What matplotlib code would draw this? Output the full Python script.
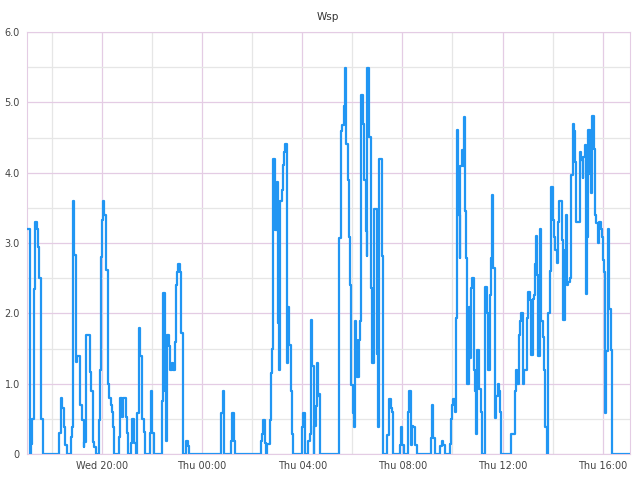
import pandas as pd
import matplotlib.pyplot as plt
import matplotlib.dates as mdates
from matplotlib.ticker import MultipleLocator, FuncFormatter

start = pd.Timestamp("2024-01-03 17:00")

# minutes after start where the reading changes, and the new reading
minutes = [
    0, 8, 9, 12, 17, 19, 24, 27, 30, 33, 35, 38,
    76, 78, 81, 85, 89, 91, 95,
    105, 108, 111, 114, 117, 120, 128, 132, 136, 138, 142, 151, 154, 158, 161, 166,
    172, 175, 178, 180, 183, 186, 190, 194, 197, 201, 204, 207, 210,
    220, 223, 227, 231, 238, 240, 242,
    250, 253, 257, 261, 264, 268, 272, 275, 277, 280, 284, 295, 297, 301, 304,
    324, 327, 330, 333, 336, 340, 343, 347, 351, 355, 358, 361, 363, 367, 370, 373,
    381, 386, 389, 465, 469, 473, 489, 492, 497, 500,
    561, 564, 567, 570, 574, 576, 582, 585, 587, 591, 594, 595, 599, 602, 604,
    607, 611, 614, 616, 619, 623, 626, 629, 632, 636, 639,
    660, 662, 666, 674, 678, 681, 684, 687, 689, 692, 695, 698, 700, 703,
    749, 753, 756, 759, 762, 765, 769, 772, 775, 778, 781, 784, 786, 789, 792,
    796, 799, 802, 805, 808, 812, 815, 816, 819, 821, 825, 828, 831, 839, 842,
    845, 850, 853, 864, 867, 872, 875, 878, 894, 897, 900, 903,
    914, 917, 920, 923, 926, 930, 934,
    968, 971, 974, 978, 990, 994, 997, 1001,
    1013, 1016, 1019, 1022, 1025, 1029, 1031, 1034, 1037, 1039, 1042, 1045, 1048,
    1050, 1053, 1056, 1059, 1061, 1064, 1068, 1071, 1074, 1077, 1080, 1083, 1088, 1091,
    1099, 1102, 1105, 1109, 1112, 1115, 1118, 1121, 1124, 1128, 1131, 1134, 1137,
    1161, 1169, 1172, 1175, 1179, 1182, 1185, 1188, 1191, 1198, 1202,
    1206, 1209, 1212, 1215, 1219, 1221, 1223, 1226, 1230, 1233, 1236, 1239, 1242, 1246,
    1250, 1253, 1257, 1260, 1263, 1266, 1270, 1273, 1276, 1282, 1285, 1289, 1292, 1295,
    1298, 1301, 1305, 1308, 1311, 1314, 1317, 1325, 1329, 1332, 1334, 1337, 1341, 1343,
    1346, 1349, 1352, 1355, 1359, 1362, 1365, 1368, 1371, 1375, 1378, 1381, 1384, 1386,
    1389, 1392, 1395, 1399, 1402, 1442,
]
wsp = [
    3.2, 0, 0.15, 0.5, 2.35, 3.3, 3.2, 2.95, 2.5, 1.15, 0.5, 0,
    0.17, 0.3, 0.8, 0.65, 0.38, 0.13, 0,
    0.25, 0.38, 3.6, 2.83, 1.31, 1.4, 0.7, 0.48, 0.1, 0.17, 1.7, 1.17, 0.9, 0.17, 0.1, 0,
    0.48, 1.2, 2.8, 3.33, 3.6, 3.4, 2.62, 1.0, 0.8, 0.7, 0.6, 0.38, 0,
    0.25, 0.8, 0.53, 0.8, 0.53, 0.3, 0,
    0.16, 0.5, 0.16, 0, 0.59, 1.8, 1.39, 1.19, 0.5, 0.32, 0, 0.3, 0.9, 0.3, 0,
    0.76, 2.29, 0.89, 0.18, 1.69, 1.53, 1.19, 1.29, 1.19, 1.6, 2.4, 2.59, 2.7, 2.59, 1.72, 0,
    0.19, 0.12, 0, 0.59, 0.9, 0, 0.19, 0.59, 0.19, 0,
    0.19, 0.28, 0.49, 0.16, 0, 0.15, 0.49, 1.15, 1.49, 4.2, 3.87, 3.19, 3.87, 1.87, 1.19,
    3.6, 3.76, 4.11, 4.3, 4.41, 1.29, 2.09, 1.55, 0.89, 0.28, 0,
    0.39, 0.59, 0, 0.19, 0.28, 1.9, 1.25, 0, 0.4, 0.68, 1.29, 0.82, 0.85, 0,
    3.07, 4.59, 4.68, 4.95, 5.49, 4.41, 3.9, 3.09, 2.4, 0.98, 0.58, 0.39, 1.89, 1.62, 1.1,
    1.62, 1.89, 5.1, 4.7, 3.9, 3.17, 2.81, 5.49, 5.17, 4.51, 2.36, 1.29, 3.49, 1.43, 0.39,
    4.19, 2.81, 0, 0.27, 0.79, 0.66, 0.6, 0, 0.13, 0.39, 0.13, 0,
    0.6, 0.9, 0.13, 0.4, 0.39, 0.13, 0,
    0.23, 0.7, 0.23, 0, 0.12, 0.18, 0.13, 0,
    0.15, 0.5, 0.7, 0.79, 0.6, 1.93, 4.61, 3.4, 2.79, 4.09, 4.32, 4.1, 4.8,
    3.46, 2.79, 0.99, 2.09, 1.36, 2.36, 2.5, 1.19, 0.89, 0.29, 1.48, 0.93, 0.6, 0,
    2.38, 2.0, 1.19, 2.26, 2.79, 3.69, 2.64, 0.51, 0.82, 0.99, 0.9, 0.6, 0,
    0.29, 0.9, 1.19, 1.0, 1.69, 1.89, 2.0, 0.99, 1.2, 1.93, 2.3,
    2.19, 1.41, 2.2, 2.26, 2.7, 3.1, 2.54, 1.4, 3.2, 1.89, 1.67, 1.19, 0.39, 0,
    2.0, 2.6, 3.8, 3.33, 3.09, 2.9, 2.72, 3.3, 3.6, 3.04, 1.91, 2.9, 3.4, 2.4,
    2.45, 2.5, 3.97, 4.7, 4.59, 4.16, 3.3, 4.3, 4.18, 3.92, 4.23, 4.4, 2.28, 3.08,
    4.61, 3.99, 3.71, 4.81, 4.34, 3.4, 3.28, 3.0, 3.3, 3.2, 3.09, 2.76, 2.59, 0.58,
    1.46, 3.2, 2.06, 1.48, 0, 0,
]

times = start + pd.to_timedelta(minutes, unit="min")

fig = plt.figure(figsize=(6.4, 4.8), dpi=100)
ax = fig.add_axes([0.042, 0.054, 0.942, 0.879])

ax.step(times, wsp, where="post", color="#2196F3", lw=1.6, zorder=3)

ax.set_xlim(start, start + pd.Timedelta(minutes=1445))
ax.set_ylim(0, 6)

ax.xaxis.set_major_locator(mdates.HourLocator(byhour=[0, 4, 8, 12, 16, 20]))
ax.xaxis.set_minor_locator(mdates.HourLocator(byhour=range(0, 24, 2)))
ax.xaxis.set_major_formatter(mdates.DateFormatter("%a %H:%M"))
ax.yaxis.set_major_locator(MultipleLocator(1.0))
ax.yaxis.set_minor_locator(MultipleLocator(0.5))
ax.yaxis.set_major_formatter(FuncFormatter(lambda v, p: "0" if v == 0 else f"{v:.1f}"))

ax.grid(True, which="major", color="#E4CCE4", lw=0.9)
ax.grid(True, which="minor", color="#E6E6E6", lw=0.9)
ax.set_axisbelow(True)
ax.tick_params(which="both", length=0, labelsize=7, colors="#444444", pad=5)
for s in ax.spines.values():
    s.set_color("#E4CCE4")

ax.set_title("Wsp", fontsize=7.5, color="#333333", pad=9)

fig.savefig("out.png", dpi=100)
